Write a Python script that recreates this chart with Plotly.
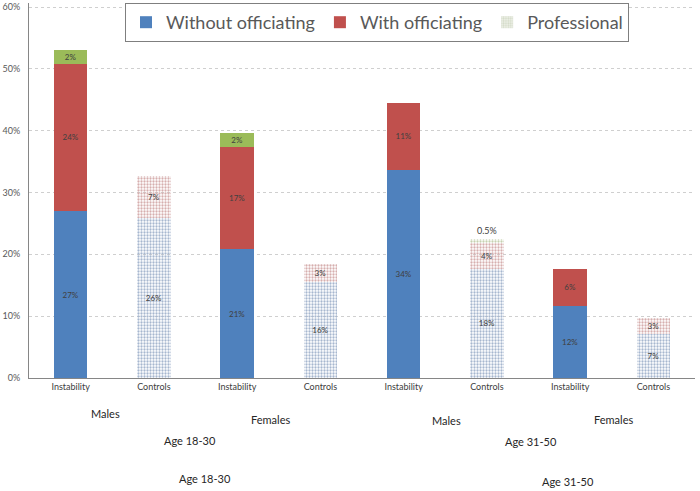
import plotly.graph_objects as go

# ---- data ----
categories = ["Instability", "Controls", "Instability", "Controls",
              "Instability", "Controls", "Instability", "Controls"]
without_off = [27.0, 25.9, 20.8, 15.6, 33.7, 17.7, 11.7, 7.1]
with_off = [23.8, 6.7, 16.6, 2.9, 10.8, 4.2, 5.9, 2.6]
professional = [2.2, None, 2.2, None, None, 0.5, None, None]
without_labels = ["27%", "26%", "21%", "16%", "34%", "18%", "12%", "7%"]
with_labels = ["24%", "7%", "17%", "3%", "11%", "4%", "6%", "3%"]
prof_labels = ["2%", "", "2%", "", "", "0.5%", "", ""]
sex_labels = ["Males", "Females", "Males", "Females"]
age_labels = ["Age 18-30", "Age 31-50"]
y_ticks = [0, 10, 20, 30, 40, 50, 60]

# ---- layout constants ----
W, H = 700, 491
L, R, T, B = 29, 5, 3, 113
PW = W - L - R
PH = H - T - B
Y0 = H - B            # pixel row of 0%
PX_PER_PCT = (Y0 - 7) / 60.0
Y_TOP = PH / PX_PER_PCT
FONT = "Lato, Carlito, 'Liberation Sans', sans-serif"

x = list(range(len(categories)))
is_ctrl = [c == "Controls" for c in categories]


def styled(solid, fg, bg):
    # solid bars: no pattern -> filled with marker colour
    # control bars: dotted pattern, dots in marker colour over a pale background
    return dict(
        color=[fg if c else solid for c in is_ctrl],
        line=dict(width=0),
        pattern=dict(
            shape=["." if c else "" for c in is_ctrl],
            bgcolor=bg,
            size=3,
            solidity=0.45,
            fillmode="replace",
        ),
    )


txtfont = dict(family=FONT, size=8, color="#404040")

fig = go.Figure()
fig.add_trace(go.Bar(
    x=x, y=without_off, name="Without officiating", showlegend=False,
    marker=styled("#4F81BD", "#A7B7CF", "#DDE3EC"),
    text=without_labels, textposition="inside", insidetextanchor="middle",
    textangle=0, insidetextfont=txtfont, constraintext="none",
))
fig.add_trace(go.Bar(
    x=x, y=with_off, name="With officiating", showlegend=False,
    marker=styled("#C0504D", "#D6AFAE", "#F1E0E0"),
    text=with_labels, textposition="inside", insidetextanchor="middle",
    textangle=0, insidetextfont=txtfont, constraintext="none",
))
fig.add_trace(go.Bar(
    x=x, y=professional, name="Professional", showlegend=False,
    marker=styled("#9BBB59", "#C6D2B0", "#EAEFE0"),
    text=prof_labels,
    textposition=["outside" if c else "inside" for c in is_ctrl],
    insidetextanchor="middle", textangle=0,
    insidetextfont=txtfont, outsidetextfont=dict(family=FONT, size=9, color="#404040"),
    constraintext="none", cliponaxis=False,
))

# legend-only entries
for name, col, pat in [("Without officiating", "#4F81BD", ""),
                       ("With officiating", "#C0504D", ""),
                       ("Professional", "#D3DAC7", ".")]:
    fig.add_trace(go.Bar(
        x=[None], y=[None], name=name, showlegend=True,
        marker=dict(color=col, line=dict(width=0),
                    pattern=dict(shape=pat, bgcolor="#EEF1E8", size=3, solidity=0.45,
                                 fillmode="replace")),
    ))

fig.update_layout(
    width=W, height=H,
    margin=dict(l=L, r=R, t=T, b=B, autoexpand=False),
    paper_bgcolor="white", plot_bgcolor="white",
    barmode="stack", bargap=0.6,
    font=dict(family=FONT, color="#595959"),
    legend=dict(
        orientation="h", x=(377 - L) / PW, xanchor="center",
        y=1.0, yanchor="top",
        bordercolor="#7F7F7F", borderwidth=1, bgcolor="white",
        font=dict(family=FONT, size=18, color="#595959"),
        itemsizing="constant", traceorder="normal",
        tracegroupgap=0,
    ),
    xaxis=dict(
        range=[-0.5, len(categories) - 0.5],
        tickvals=x, ticktext=categories,
        tickfont=dict(family=FONT, size=9, color="#404040"),
        showline=True, linecolor="#868686", linewidth=1,
        showgrid=False, ticks="", fixedrange=True,
    ),
    yaxis=dict(
        range=[0, Y_TOP], tickvals=y_ticks,
        ticktext=[f"{v}%" for v in y_ticks],
        tickfont=dict(family=FONT, size=9, color="#595959"),
        showline=True, linecolor="#868686", linewidth=1,
        showgrid=True, gridcolor="#CFCFCF", griddash="dot", gridwidth=1,
        zeroline=False, ticks="", ticklabelstandoff=6,
    ),
)


def px2paper(px, py):
    return (px - L) / PW, (Y0 - py) / PH


ann = []
sex_pos = [(105, 413), (270, 419), (446, 420), (613, 419)]
for lab, (px, py) in zip(sex_labels, sex_pos):
    xp, yp = px2paper(px, py)
    ann.append(dict(text=lab, x=xp, y=yp))
age_pos1 = [(190, 440), (531, 441)]
age_pos2 = [(205, 478), (568, 481)]
for lab, (px, py) in zip(age_labels, age_pos1):
    xp, yp = px2paper(px, py)
    ann.append(dict(text=lab, x=xp, y=yp))
for lab, (px, py) in zip(age_labels, age_pos2):
    xp, yp = px2paper(px, py)
    ann.append(dict(text=lab, x=xp, y=yp))
for a in ann:
    a.update(xref="paper", yref="paper", showarrow=False,
             xanchor="center", yanchor="middle",
             font=dict(family=FONT, size=11, color="#262626"))
fig.update_layout(annotations=ann)

fig.write_html("out.html",
               config={"displayModeBar": False},
               post_script="document.body.style.margin='0';document.body.style.overflow='hidden';")
